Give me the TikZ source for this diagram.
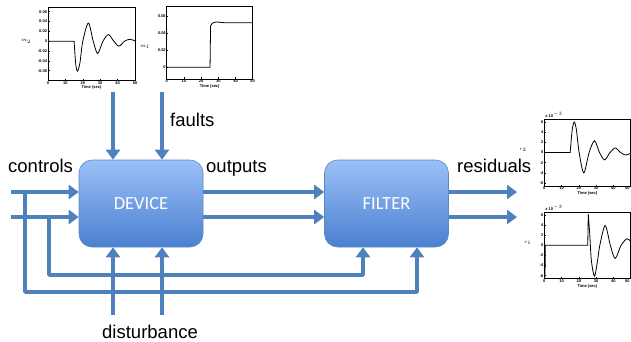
\documentclass[tikz,border=0pt]{standalone}
\usepackage{fontspec}
\setmainfont{Liberation Sans}
\newfontfamily\boxfont{Carlito}
\usetikzlibrary{arrows.meta}
\definecolor{flowblue}{HTML}{4F81BD}
\definecolor{boxtop}{HTML}{9CC0F7}
\definecolor{boxbottom}{HTML}{4A80D0}
\definecolor{boxline}{HTML}{5A8AC6}

\begin{document}
\begin{tikzpicture}[x=1pt, y=-1pt,
  block/.style = {shape=rectangle, rounded corners=13pt, draw=boxline, line width=0.6pt,
    top color=boxtop, bottom color=boxbottom, minimum width=124pt, minimum height=87pt,
    text=white, font=\boxfont\fontsize{18.5}{22}\selectfont},
  flow/.style = {draw=flowblue, line width=3.6pt, line join=round,
    -{Triangle[length=10pt,width=14pt]}},
  signal/.style = {inner sep=0pt, font=\fontsize{18.5}{22}\selectfont},
  plotframe/.style = {line width=0.5pt},
  curve/.style = {line width=0.8pt},
  ticklab/.style = {inner sep=0.8pt, font=\fontsize{4}{5}\selectfont\bfseries},
  axislab/.style = {inner sep=0.8pt, font=\fontsize{5.5}{6}\selectfont}
  ]
  \useasboundingbox (0,0) rectangle (631,341);

  % blocks
  \node[block] (device) at (141,203.5) {DEVICE};
  \node[block] (filter) at (386.5,203.5) {FILTER};

  % connector ends
  \coordinate (u1) at (11,192);
  \coordinate (u2) at (11,217);
  \coordinate (r1) at (517,192);
  \coordinate (r2) at (517,217);
  \coordinate (f1) at (113,92);
  \coordinate (f2) at (162,92);
  \coordinate (d1) at (113,315);
  \coordinate (d2) at (162,315);
  \coordinate (b1) at (25,192);
  \coordinate (b2) at (49,217);
  \coordinate (e1) at (417,292);
  \coordinate (e2) at (363,275);

  % signals
  \draw[flow] (u1) -- (u1 -| device.west);
  \draw[flow] (u2) -- (u2 -| device.west);
  \draw[flow] (device.east |- u1) -- (filter.west |- u1);
  \draw[flow] (device.east |- u2) -- (filter.west |- u2);
  \draw[flow] (filter.east |- r1) -- (r1);
  \draw[flow] (filter.east |- r2) -- (r2);
  \draw[flow] (f1) -- (f1 |- device.north);
  \draw[flow] (f2) -- (f2 |- device.north);
  \draw[flow] (d1) -- (d1 |- device.south);
  \draw[flow] (d2) -- (d2 |- device.south);
  \draw[flow] (b1) |- (e1) -- (e1 |- filter.south);
  \draw[flow] (b2) |- (e2) -- (e2 |- filter.south);

  \node[signal, anchor=base west] (controls) at (8,172) {controls};
  \node[signal, anchor=base west] (outputs) at (206,172) {outputs};
  \node[signal, anchor=base west] (residuals) at (457,172) {residuals};
  \node[signal, anchor=base west] (faults) at (170,126) {faults};
  \node[signal, anchor=base west] (disturbance) at (102,338.5) {disturbance};

  % fault m_2
  \begin{scope}[shift={(48,41.2)}, xscale=1.74, yscale=-491.7]
    \draw[plotframe] (0,-0.08) rectangle (50,0.07);
    \foreach \v in {-0.06,-0.04,-0.02,0,0.02,0.04,0.06} {
      \draw[plotframe] (0,\v) -- ++(1,0);
      \node[ticklab, anchor=east] at (0,\v) {\v};
    }
    \foreach \t in {0,10,...,50} {
      \draw[plotframe] (\t,-0.08) -- ++(0,0.003);
      \node[ticklab, anchor=north] at (\t,-0.08) {\t};
    }
    \node[ticklab, anchor=north, yshift=-4.5pt] at (25,-0.08) {Time (sec)};
    \node[axislab] at (-12.6,0) {$m_2$};
    \draw[curve] (0,0) -- (15,0) -- plot[smooth] coordinates {(15,0) (15.9,-0.045)
      (16.9,-0.061) (18.3,-0.045) (20,0) (23.2,0.037) (26,0) (28.5,-0.025) (31.6,0)
      (34.7,0.0136) (37.8,0) (40.8,-0.010) (44,0) (47.1,0.004) (50,0.0005)};
  \end{scope}

  % fault m_1
  \begin{scope}[shift={(166.7,67.3)}, xscale=1.72, yscale=-855]
    \draw[plotframe] (0,-0.0137) rectangle (50,0.0709);
    \foreach \v in {0,0.02,0.04,0.06} {
      \draw[plotframe] (0,\v) -- ++(1,0);
      \node[ticklab, anchor=east] at (0,\v) {\v};
    }
    \foreach \t in {0,10,...,50} {
      \draw[plotframe] (\t,-0.0137) -- ++(0,0.002);
      \node[ticklab, anchor=north] at (\t,-0.0137) {\t};
    }
    \node[ticklab, anchor=north, yshift=-4.5pt] at (25,-0.0137) {Time (sec)};
    \node[axislab] at (-12.6,0.0237) {$m_1$};
    \draw[curve] (0,0) -- (25.2,0) -- (25.5,0.048) -- plot[smooth] coordinates {(25.5,0.048)
      (26.5,0.0515) (29,0.053) (33,0.0522) (40,0.052) (50,0.052)};
  \end{scope}

  % residual r_2
  \begin{scope}[shift={(544.3,152.5)}, xscale=1.724, yscale=-5.08]
    \draw[plotframe] (0,-6.6) rectangle (50,6.6);
    \foreach \v in {-6,-4,...,6} {
      \draw[plotframe] (0,\v) -- ++(1,0);
      \node[ticklab, anchor=east] at (0,\v) {\v};
    }
    \foreach \t in {0,10,...,40} {
      \draw[plotframe] (\t,-6.6) -- ++(0,0.3);
      \node[ticklab, anchor=north] at (\t,-6.6) {\t};
    }
    \node[ticklab, anchor=north east] at (50,-6.6) {50};
    \node[ticklab, anchor=north, yshift=-4.5pt] at (25,-6.6) {Time (sec)};
    \node[ticklab, anchor=south west] at (0,6.6) {x 10$^{-3}$};
    \node[axislab] at (-12.4,0.5) {$r_2$};
    \draw[curve] (0,0) -- (15,0) -- plot[smooth] coordinates {(15,0) (16.2,4.5) (17.4,6)
      (18.6,4.5) (20.2,0) (22.9,-4) (26,0) (29.1,2.3) (32,0) (35,-1.45) (38.1,0)
      (41.2,0.9) (44.2,0) (47.2,-0.5) (50,-0.15)};
  \end{scope}

  % residual r_1
  \begin{scope}[shift={(544.3,245.3)}, xscale=1.724, yscale=-5.06]
    \draw[plotframe] (0,-6.6) rectangle (50,6.6);
    \foreach \v in {-6,-4,...,6} {
      \draw[plotframe] (0,\v) -- ++(1,0);
      \node[ticklab, anchor=east] at (0,\v) {\v};
    }
    \foreach \t in {0,10,...,40} {
      \draw[plotframe] (\t,-6.6) -- ++(0,0.3);
      \node[ticklab, anchor=north] at (\t,-6.6) {\t};
    }
    \node[ticklab, anchor=north east] at (50,-6.6) {50};
    \node[ticklab, anchor=north, yshift=-4.5pt] at (25,-6.6) {Time (sec)};
    \node[ticklab, anchor=south west] at (0,6.6) {x 10$^{-3}$};
    \node[axislab] at (-9.6,0.5) {$r_1$};
    \draw[curve] (0.4,-6.3) -- (0.6,0) -- (25.2,0) -- (25.5,6.2) -- plot[smooth] coordinates
      {(25.5,6.2) (26.4,2) (27.3,-3) (29.1,-6.1) (30.9,-3) (32.2,0) (35.3,3.9) (38.3,0)
      (41.1,-2.6) (44.5,0) (47.9,1.3) (50,0.8)};
  \end{scope}
\end{tikzpicture}
\end{document}
